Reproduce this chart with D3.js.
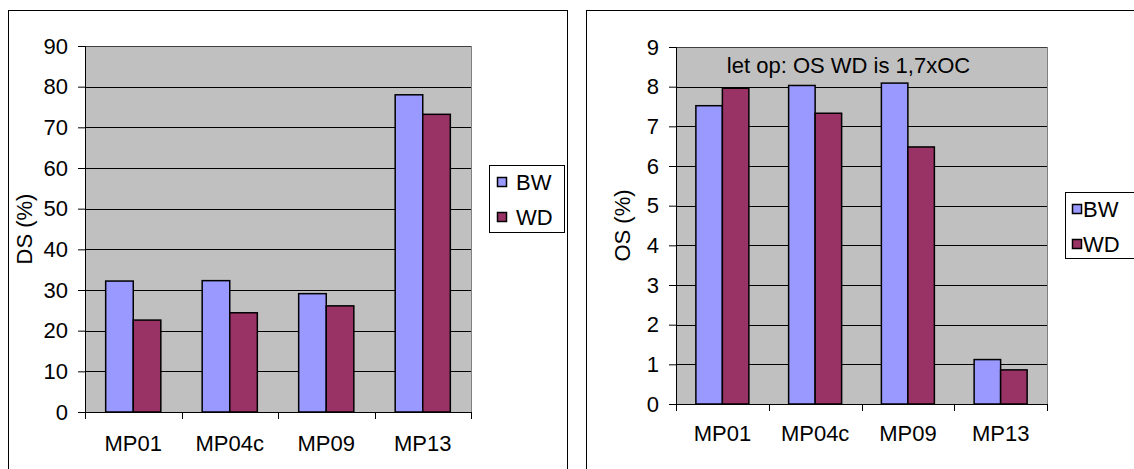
<!DOCTYPE html>
<html><head><meta charset="utf-8">
<script src="https://cdn.jsdelivr.net/npm/d3@7"></script>
<style>
html,body{margin:0;padding:0;background:#fff;}
svg{display:block;font-family:"Liberation Sans",Arial,sans-serif;}
</style></head>
<body>
<svg id="c" width="1134" height="469"></svg>
<script>
const categories = ["MP01","MP04c","MP09","MP13"];
const seriesNames = ["BW","WD"];
const dsBW = [32.2, 32.3, 29.1, 78.0];
const dsWD = [22.6, 24.4, 26.1, 73.2];
const osBW = [7.52, 8.03, 8.09, 1.12];
const osWD = [7.96, 7.33, 6.48, 0.86];
const dsTicks = [0,10,20,30,40,50,60,70,80,90];
const osTicks = [0,1,2,3,4,5,6,7,8,9];
const colors = {BW:"#9999FF", WD:"#993366"};

const svg = d3.select("#c");
const FS = 22;

function chart(cfg){
  const g = svg.append("g");
  g.append("rect").attr("x",cfg.frame[0]+0.5).attr("y",cfg.frame[1]+0.5)
    .attr("width",cfg.frame[2]).attr("height",cfg.frame[3])
    .attr("fill","#fff").attr("stroke","#000").attr("stroke-width",1);
  const [L,T,R,B] = cfg.plot;
  const x = d3.scaleBand().domain(categories).range([L,R]);
  const y = d3.scaleLinear().domain([0, cfg.ticks[cfg.ticks.length-1]]).range([B,T]);
  g.append("rect").attr("x",L).attr("y",T).attr("width",R-L).attr("height",B-T)
    .attr("fill","#C0C0C0");
  g.append("g").selectAll("line").data(cfg.ticks.filter(t=>t>0)).join("line")
    .attr("x1",L).attr("x2",R).attr("y1",d=>Math.round(y(d))+0.5).attr("y2",d=>Math.round(y(d))+0.5)
    .attr("stroke","#000").attr("stroke-width",1);
  g.append("line").attr("x1",R+0.5).attr("x2",R+0.5).attr("y1",T).attr("y2",B)
    .attr("stroke","#808080");
  g.append("line").attr("x1",L).attr("x2",R).attr("y1",T+0.5).attr("y2",T+0.5)
    .attr("stroke","#404040");
  const bw = x.bandwidth()/3.5;
  const vals = {BW:cfg.bw, WD:cfg.wd};
  seriesNames.forEach((s,si)=>{
    g.append("g").selectAll("rect").data(categories).join("rect")
      .attr("x",(d)=>x(d)+x.bandwidth()/2 - bw + si*bw)
      .attr("y",(d,i)=>y(vals[s][i]))
      .attr("width",bw)
      .attr("height",(d,i)=>B-y(vals[s][i]))
      .attr("fill",colors[s]).attr("stroke","#000").attr("stroke-width",1.5);
  });
  const ya = d3.axisLeft(y).tickValues(cfg.ticks).tickSize(7).tickPadding(4).tickFormat(d3.format("d"));
  const yg = g.append("g").attr("transform",`translate(${L},0)`).call(ya);
  yg.select(".domain").attr("stroke","#000");
  yg.selectAll(".tick line").attr("stroke","#000");
  yg.selectAll("text").attr("font-size",FS).attr("fill","#000").attr("font-family","Liberation Sans, Arial, sans-serif").attr("dx",-cfg.tickGap);
  const xa = d3.axisBottom(x).tickSize(0).tickPadding(0);
  const xg = g.append("g").attr("transform",`translate(0,${B})`).call(xa);
  xg.select(".domain").remove();
  xg.selectAll("text").attr("font-size",FS).attr("fill","#000").attr("font-family","Liberation Sans, Arial, sans-serif")
    .attr("dy",null).attr("y",cfg.catY);
  g.append("line").attr("x1",L).attr("x2",R).attr("y1",B+0.5).attr("y2",B+0.5).attr("stroke","#000");
  const seps = categories.map(c=>x(c)).concat([R]);
  g.append("g").selectAll("line").data(seps).join("line")
    .attr("x1",d=>Math.round(d)+0.5).attr("x2",d=>Math.round(d)+0.5)
    .attr("y1",B).attr("y2",B+7).attr("stroke","#000");
  g.append("text").attr("transform",`translate(${cfg.titleX},${(T+B)/2}) rotate(-90)`)
    .attr("text-anchor","middle").attr("font-size",FS).text(cfg.title);
  const [lx,ly,lw,lh] = cfg.legend;
  const lg = g.append("g");
  lg.append("rect").attr("x",lx+0.5).attr("y",ly+0.5).attr("width",lw).attr("height",lh)
    .attr("fill","#fff").attr("stroke","#000");
  seriesNames.forEach((s,i)=>{
    lg.append("rect").attr("x",lx+cfg.swX+0.5).attr("y",ly+12.5+i*35).attr("width",9).attr("height",9)
      .attr("fill",colors[s]).attr("stroke","#000").attr("stroke-width",1.5);
    lg.append("text").attr("x",lx+cfg.txX).attr("y",ly+25+i*35).attr("font-size",FS).text(s);
  });
  if(cfg.note){
    g.append("text").attr("x",(L+R)/2-13).attr("y",T+26).attr("text-anchor","middle")
      .attr("font-size",FS).text(cfg.note);
  }
}

chart({frame:[8,10,559,500], plot:[85,46,471,412], ticks:dsTicks, bw:dsBW, wd:dsWD,
  title:"DS (%)", titleX:32, catY:39, tickGap:6, legend:[489,165,75,67], swX:8, txX:27});
chart({frame:[586,10,600,500], plot:[676,47,1047,404], ticks:osTicks, bw:osBW, wd:osWD,
  title:"OS (%)", titleX:630, catY:37, tickGap:6, legend:[1065,192,100,66], swX:7, txX:18,
  note:"let op: OS WD is 1,7xOC"});
</script>
</body></html>
